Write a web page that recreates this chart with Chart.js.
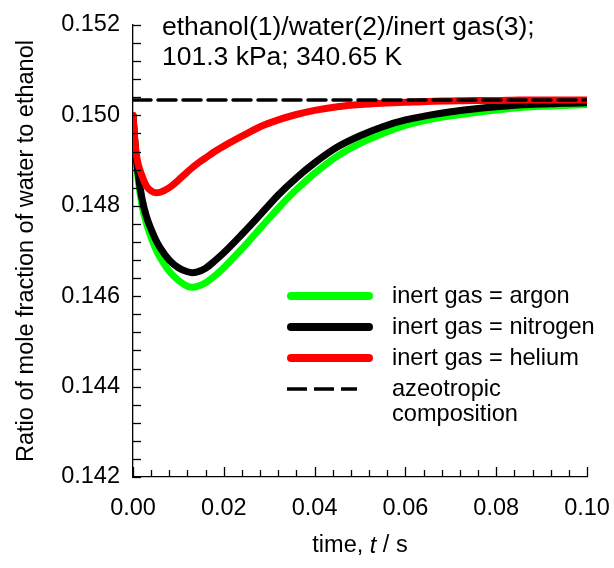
<!DOCTYPE html>
<html>
<head>
<meta charset="utf-8">
<script src="https://cdn.jsdelivr.net/npm/chart.js@4/dist/chart.umd.min.js"></script>
<style>
html,body{margin:0;padding:0;background:#fff;}
#wrap{width:614px;height:568px;position:relative;}
</style>
</head>
<body>
<div id="wrap"><canvas id="c" width="614" height="568"></canvas></div>
<script>
// ---- data ----
const timeS    = [0, 0.0005, 0.001, 0.002, 0.003, 0.004, 0.005, 0.006, 0.008, 0.010, 0.012, 0.013, 0.014, 0.016, 0.018, 0.020, 0.024, 0.028, 0.032, 0.036, 0.040, 0.045, 0.050, 0.055, 0.060, 0.065, 0.070, 0.075, 0.080, 0.085, 0.090, 0.095, 0.100];
const argon    = [0.15000, 0.14925, 0.14870, 0.14800, 0.14760, 0.14730, 0.14705, 0.14685, 0.14655, 0.14635, 0.14622, 0.14620, 0.14621, 0.14630, 0.14645, 0.14663, 0.14705, 0.14750, 0.14795, 0.14836, 0.14872, 0.14910, 0.14938, 0.14960, 0.14978, 0.14990, 0.14999, 0.15006, 0.15012, 0.15017, 0.15020, 0.15022, 0.15024];
const nitrogen = [0.15000, 0.14930, 0.14880, 0.14815, 0.14775, 0.14748, 0.14725, 0.14707, 0.14680, 0.14663, 0.14654, 0.14652, 0.14653, 0.14662, 0.14678, 0.14696, 0.14737, 0.14780, 0.14824, 0.14862, 0.14895, 0.14930, 0.14955, 0.14975, 0.14990, 0.15000, 0.15008, 0.15014, 0.15019, 0.15023, 0.15025, 0.15027, 0.15028];
const helium   = [0.15000, 0.14935, 0.14898, 0.14866, 0.14843, 0.14833, 0.14829, 0.14830, 0.14840, 0.14857, 0.14875, 0.14884, 0.14892, 0.14906, 0.14920, 0.14932, 0.14954, 0.14975, 0.14990, 0.15002, 0.15011, 0.15019, 0.15024, 0.15027, 0.15029, 0.15031, 0.15032, 0.15033, 0.15033, 0.15034, 0.15034, 0.15034, 0.15034];
const azeoTime  = [0, 0.1];
const azeotrope = [0.15034, 0.15034];

const xTickValues = [0, 0.02, 0.04, 0.06, 0.08, 0.10];
const yTickValues = [0.142, 0.144, 0.146, 0.148, 0.150, 0.152];
const seriesLabels = ['inert gas = argon', 'inert gas = nitrogen', 'inert gas = helium', ['azeotropic', 'composition']];
const annotationLines = ['ethanol(1)/water(2)/inert gas(3);', '101.3 kPa; 340.65 K'];
const yTitle = 'Ratio of mole fraction of water to ethanol';
const xTitleParts = [['time, ', 'normal'], ['t', 'italic'], [' / s', 'normal']];

// ---- styling ----
const FONT = "'Liberation Sans', Arial, sans-serif";
const toPts = (xs, ys) => xs.map((x, i) => ({x: x, y: ys[i]}));

const datasets = [
  {label: seriesLabels[0], data: toPts(timeS, argon),    borderColor: '#00ff00', borderWidth: 7, order: 4},
  {label: seriesLabels[1], data: toPts(timeS, nitrogen), borderColor: '#000000', borderWidth: 7, order: 3},
  {label: seriesLabels[2], data: toPts(timeS, helium),   borderColor: '#ff0000', borderWidth: 7, order: 2},
  {label: seriesLabels[3], data: toPts(azeoTime, azeotrope), borderColor: '#000000', borderWidth: 3.5, borderDash: [18, 7], order: 1, cubicInterpolationMode: 'default'}
].map(d => Object.assign({
  showLine: true, pointRadius: 0, fill: false,
  cubicInterpolationMode: 'monotone',
  borderCapStyle: 'round', borderJoinStyle: 'round'
}, d));

// inward ticks
const tickPlugin = {
  id: 'inwardTicks',
  afterDraw(chart) {
    const {ctx, chartArea: a, scales: {x, y}} = chart;
    ctx.save();
    ctx.strokeStyle = '#000';
    ctx.lineWidth = 1.3;
    for (let i = 0; i <= 25; i++) {
      const v = i * 0.004;
      const px = Math.round(x.getPixelForValue(v)) + 0.5;
      const len = (i % 5 === 0) ? 10 : 7;
      ctx.beginPath(); ctx.moveTo(px, a.bottom); ctx.lineTo(px, a.bottom - len); ctx.stroke();
    }
    for (let i = 0; i <= 25; i++) {
      const v = 0.142 + i * 0.0004;
      const py = Math.round(y.getPixelForValue(v)) + 0.5;
      ctx.beginPath(); ctx.moveTo(a.left, py); ctx.lineTo(a.left + 8, py); ctx.stroke();
    }
    ctx.restore();
  }
};

// annotation text, legend and x title
const textPlugin = {
  id: 'texts',
  afterDraw(chart) {
    const {ctx, chartArea: a} = chart;
    ctx.save();
    ctx.fillStyle = '#000';
    ctx.textBaseline = 'middle';
    ctx.textAlign = 'left';
    // annotation
    ctx.font = '26.5px ' + FONT;
    annotationLines.forEach((s, i) => ctx.fillText(s, a.left + 29, 28 + i * 30));
    // legend
    const lx0 = a.left + 158, lx1 = a.left + 236, tx = a.left + 259;
    const rows = [296, 327, 358, 389];
    ctx.font = '23.6px ' + FONT;
    chart.data.datasets.forEach((ds, i) => {
      const yy = rows[i];
      ctx.save();
      ctx.strokeStyle = ds.borderColor;
      ctx.lineWidth = ds.borderDash ? 3.5 : 8;
      ctx.lineCap = ds.borderDash ? 'butt' : 'round';
      if (ds.borderDash) ctx.setLineDash([20, 7]);
      ctx.beginPath();
      ctx.moveTo(ds.borderDash ? lx0 - 4 : lx0, yy);
      ctx.lineTo(ds.borderDash ? lx1 - 12 : lx1, yy);
      ctx.stroke();
      ctx.restore();
      const lab = Array.isArray(ds.label) ? ds.label : [ds.label];
      lab.forEach((s, j) => ctx.fillText(s, tx, yy + j * 25));
    });
    // x title with italic t
    let total = 0;
    const widths = xTitleParts.map(([s, st]) => {
      ctx.font = (st === 'italic' ? 'italic ' : '') + '23.5px ' + FONT;
      const w = ctx.measureText(s).width; total += w; return w;
    });
    let cx = (a.left + a.right) / 2 - total / 2;
    xTitleParts.forEach(([s, st], i) => {
      ctx.font = (st === 'italic' ? 'italic ' : '') + '23.5px ' + FONT;
      ctx.fillText(s, cx, 546);
      cx += widths[i];
    });
    ctx.restore();
  }
};

new Chart(document.getElementById('c'), {
  type: 'scatter',
  data: {datasets: datasets},
  options: {
    responsive: false,
    devicePixelRatio: 1,
    animation: false,
    layout: {padding: {top: 25, right: 27, left: 0, bottom: 0}},
    plugins: {legend: {display: false}, tooltip: {enabled: false}},
    scales: {
      x: {
        type: 'linear', min: 0, max: 0.1,
        afterBuildTicks: s => { s.ticks = xTickValues.map(v => ({value: v})); },
        afterFit: s => { s.height = 91; s.paddingRight = 0; s.paddingLeft = 0; },
        grid: {display: false, drawTicks: false},
        border: {display: true, color: '#000', width: 1.3},
        ticks: {color: '#000', font: {family: FONT, size: 23.5}, padding: 17, maxRotation: 0, autoSkip: false,
                callback: v => Number(v).toFixed(2)}
      },
      y: {
        type: 'linear', min: 0.142, max: 0.152,
        afterBuildTicks: s => { s.ticks = yTickValues.map(v => ({value: v})); },
        afterFit: s => { s.width = 133; s.paddingTop = 0; s.paddingBottom = 0; },
        grid: {display: false, drawTicks: false},
        border: {display: true, color: '#000', width: 1.3},
        ticks: {color: '#000', font: {family: FONT, size: 23.5}, padding: 13, autoSkip: false,
                callback: v => Number(v).toFixed(3)},
        title: {display: true, text: yTitle, color: '#000', font: {family: FONT, size: 23.5, weight: 'normal'}, padding: {top: 12, bottom: 0}}
      }
    }
  },
  plugins: [tickPlugin, textPlugin]
});
</script>
</body>
</html>
